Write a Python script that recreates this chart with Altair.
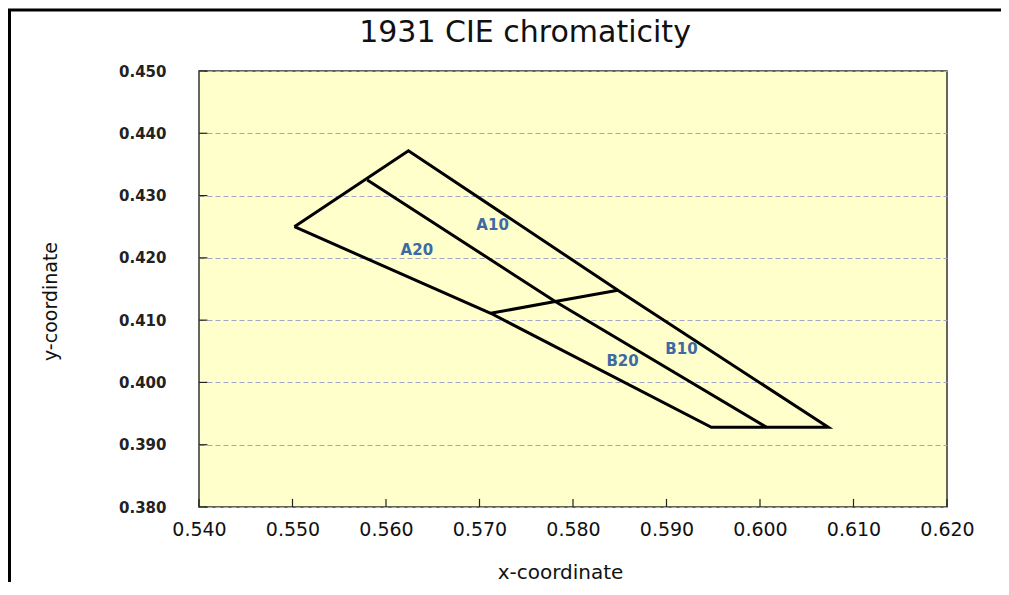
import altair as alt
import pandas as pd

# Axis tick values
x_ticks = [0.540, 0.550, 0.560, 0.570, 0.580, 0.590, 0.600, 0.610, 0.620]
y_ticks = [0.380, 0.390, 0.400, 0.410, 0.420, 0.430, 0.440, 0.450]

# Outer boundary of the region
outer_x = [0.5502, 0.5624, 0.5848, 0.6073, 0.5948, 0.5712, 0.5502]
outer_y = [0.4250, 0.4372, 0.4148, 0.3928, 0.3928, 0.4111, 0.4250]
# Middle dividing line (10 / 20)
mid_x = [0.5580, 0.5781, 0.6007]
mid_y = [0.4325, 0.4130, 0.3928]
# Cross dividing line (A / B)
cross_x = [0.5712, 0.5781, 0.5848]
cross_y = [0.4111, 0.4130, 0.4148]

# Region labels
label_text = ["A10", "A20", "B10", "B20"]
label_x = [0.5714, 0.5633, 0.5916, 0.5853]
label_y = [0.4253, 0.4213, 0.4054, 0.4034]

rows = []
for name, xs, ys in [("outer", outer_x, outer_y), ("middle", mid_x, mid_y), ("cross", cross_x, cross_y)]:
    for i, (a, b) in enumerate(zip(xs, ys)):
        rows.append({"seg": name, "i": i, "x": a, "y": b})
lines_df = pd.DataFrame(rows)
labels_df = pd.DataFrame({"label": label_text, "x": label_x, "y": label_y})
xt_df = pd.DataFrame({"x": x_ticks})
yt_df = pd.DataFrame({"y": y_ticks})

xscale = alt.Scale(domain=[0.540, 0.620], zero=False, nice=False)
yscale = alt.Scale(domain=[0.380, 0.450], zero=False, nice=False)

X = alt.X("x:Q", scale=xscale, title="x-coordinate",
          axis=alt.Axis(values=x_ticks, format=".3f", grid=False,
                        domain=False, ticks=False,
                        labelFont="DejaVu Sans", labelFontSize=19, labelColor="#111111",
                        labelPadding=13, labelFlush=False,
                        titleFont="DejaVu Sans", titleFontSize=20, titleFontWeight="normal",
                        titleColor="#111111", titleX=361, titleY=65,
                        titleBaseline="middle", titleAlign="center"))
Y = alt.Y("y:Q", scale=yscale, title="y-coordinate",
          axis=alt.Axis(values=y_ticks, format=".3f", grid=True,
                        domain=False, ticks=False,
                        gridColor="#a4a4c4", gridDash=[5, 3], gridWidth=1,
                        labelFont="DejaVu Sans", labelFontSize=15, labelFontWeight="bold",
                        labelColor="#222222", labelPadding=33,
                        titleFont="DejaVu Sans", titleFontSize=19, titleFontWeight="normal",
                        titleColor="#111111", titleX=-149, titleY=230,
                        titleBaseline="middle", titleAlign="center", titleAngle=-90))

lines = alt.Chart(lines_df).mark_line(color="black", strokeWidth=3, strokeJoin="miter").encode(
    x=X, y=Y, detail="seg:N", order="i:O"
)

texts = alt.Chart(labels_df).mark_text(
    font="DejaVu Sans", fontWeight="bold", fontSize=15, color="#3d6aa3"
).encode(x=alt.X("x:Q", scale=xscale), y=alt.Y("y:Q", scale=yscale), text="label:N")

xticks = alt.Chart(xt_df).mark_rule(color="#222222", strokeWidth=1.2).encode(
    x=alt.X("x:Q", scale=xscale),
    y=alt.Y(datum=0.380, scale=yscale),
    y2=alt.Y2(datum=0.3813),
)
yticks = alt.Chart(yt_df).mark_rule(color="#222222", strokeWidth=1.2).encode(
    y=alt.Y("y:Q", scale=yscale),
    x=alt.X(datum=0.540, scale=xscale),
    x2=alt.X2(datum=0.5409),
)

frame_df = pd.DataFrame({"k": [0]})
frame_top = alt.Chart(frame_df).mark_rule(color="black", strokeWidth=3).encode(
    x=alt.value(-191), x2=alt.value(810), y=alt.value(-61)
)
frame_left = alt.Chart(frame_df).mark_rule(color="black", strokeWidth=3).encode(
    x=alt.value(-189.5), y=alt.value(-62), y2=alt.value(530)
)

chart = alt.layer(lines, texts, xticks, yticks, frame_top, frame_left).properties(
    width=748,
    height=436,
    background="white",
    title=alt.Title("1931 CIE chromaticity", font="DejaVu Sans", fontSize=30,
                    fontWeight="normal", color="#111111", anchor="middle",
                    dx=-48, dy=62, offset=22),
    autosize=alt.AutoSizeParams(type="none"),
    padding={"left": 191, "top": 63, "right": 54, "bottom": 75},
).configure_view(
    fill="#FFFFCC", stroke="#333333", strokeWidth=1.5
)

chart.save("out.html", embed_options={"renderer": "svg", "actions": False})
